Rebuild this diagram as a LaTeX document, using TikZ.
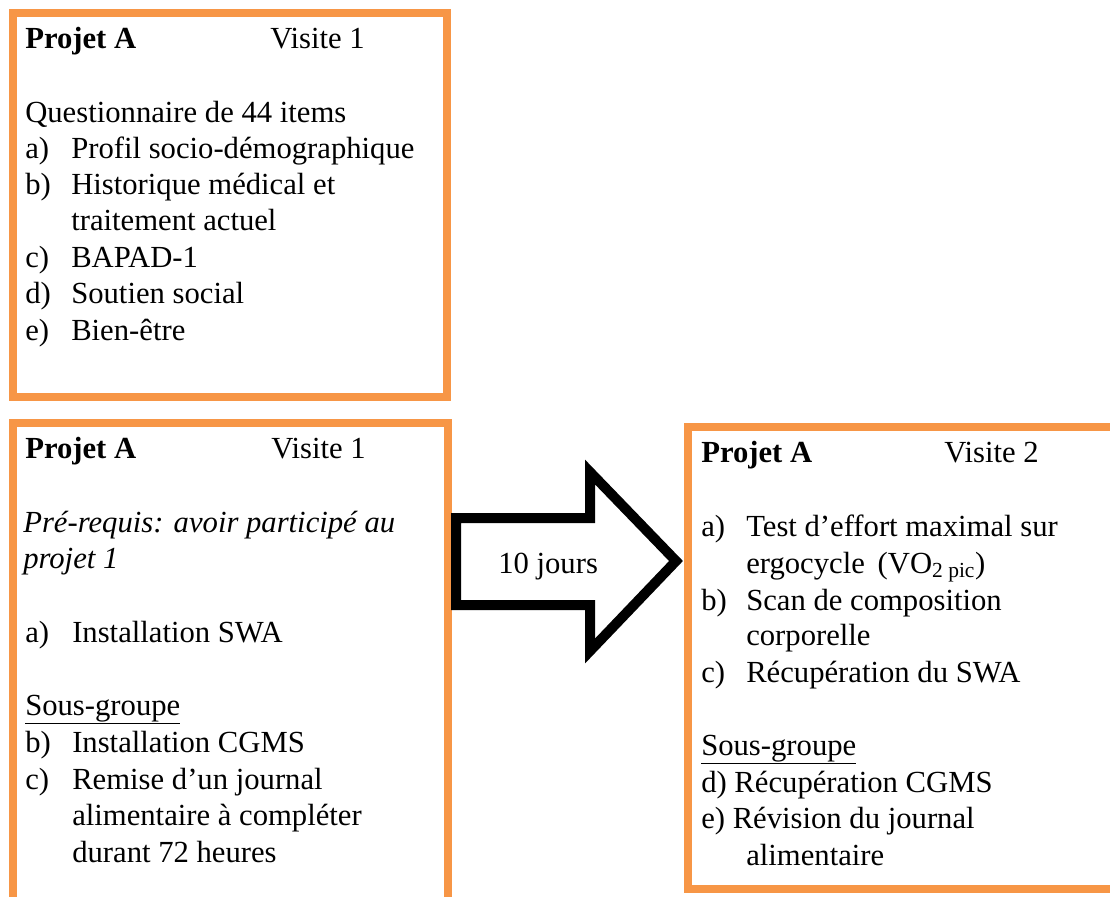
\documentclass[tikz,border=0pt]{standalone}
\usepackage{fontspec}
\setmainfont{Liberation Serif}
\definecolor{boxorange}{HTML}{F79646}
\begin{document}
\begin{tikzpicture}[x=0.75pt,y=-0.75pt,
  panel/.style={draw=boxorange, line width=6pt, fill=none, inner sep=0pt},
  txt/.style={anchor=base west, inner sep=0pt, font=\fontsize{23}{27.4}\selectfont},
  bigarrow/.style={draw=black, line width=7.5pt, fill=white, line join=miter, miter limit=10}]
\useasboundingbox (0,0) rectangle (1110,896);
\clip (0,0) rectangle (1110,896);
\fill[white] (0,0) rectangle (1110,896);

% panels
\node[panel, minimum width=325.5pt, minimum height=288pt] (box1) at (230,205) {};
\node[panel, minimum width=326.25pt, minimum height=369pt] (box2) at (230.5,669) {};
\node[panel, minimum width=324pt, minimum height=346.5pt] (box3) at (904,658) {};

% block arrow between the two visits
\draw[bigarrow] (456,518) -- (590,518) -- (590,472) -- (676,561) -- (590,651) -- (590,605) -- (456,605) -- cycle;
\node[txt] (delay) at (498,573) {10 jours};

% first panel: questionnaire
\node[txt] (p1) at (25,48) {\textbf{Projet A}};
\node[txt] (v1) at (270,48) {Visite 1};
\node[txt] (q1) at (25,122) {Questionnaire de 44 items};
\node[txt] (la1) at (25,158) {a)};
\node[txt] (ta1) at (71,158) {Profil socio-démographique};
\node[txt] (lb1) at (25,194) {b)};
\node[txt] (tb1) at (71,194) {Historique médical et};
\node[txt] (tb1b) at (71,230) {traitement actuel};
\node[txt] (lc1) at (25,267) {c)};
\node[txt] (tc1) at (71,267) {BAPAD-1};
\node[txt] (ld1) at (25,303) {d)};
\node[txt] (td1) at (71,303) {Soutien social};
\node[txt] (le1) at (25,340) {e)};
\node[txt] (te1) at (71,340) {Bien-être};

% second panel: installation
\node[txt] (p2) at (25,458) {\textbf{Projet A}};
\node[txt] (v2) at (271,458) {Visite 1};
\node[txt] (r1) at (23,532) {\textit{Pré-requis: avoir participé au}};
\node[txt] (r2) at (23,568) {\textit{projet 1}};
\node[txt] (la2) at (25,642) {a)};
\node[txt] (ta2) at (72,642) {Installation SWA};
\node[txt] (s2) at (25,715) {\underline{Sous-groupe}};
\node[txt] (lb2) at (25,752) {b)};
\node[txt] (tb2) at (72,752) {Installation CGMS};
\node[txt] (lc2) at (25,789) {c)};
\node[txt] (tc2) at (72,789) {Remise d’un journal};
\node[txt] (tc2b) at (72,825) {alimentaire à compléter};
\node[txt] (tc2c) at (72,862) {durant 72 heures};

% third panel: second visit
\node[txt] (p3) at (701,462) {\textbf{Projet A}};
\node[txt] (v3) at (944,462) {Visite 2};
\node[txt] (la3) at (701,536) {a)};
\node[txt] (ta3) at (746,536) {Test d’effort maximal sur};
\node[txt] (ta3b) at (746,573) {ergocycle \,(VO\textsubscript{2 pic})};
\node[txt] (lb3) at (701,610) {b)};
\node[txt] (tb3) at (746,610) {Scan de composition};
\node[txt] (tb3b) at (746,645) {corporelle};
\node[txt] (lc3) at (701,682) {c)};
\node[txt] (tc3) at (746,682) {Récupération du SWA};
\node[txt] (s3) at (701,755) {\underline{Sous-groupe}};
\node[txt] (d3) at (701,792) {d) Récupération CGMS};
\node[txt] (e3) at (701,828) {e) Révision du journal};
\node[txt] (e3b) at (746,865) {alimentaire};
\end{tikzpicture}
\end{document}
